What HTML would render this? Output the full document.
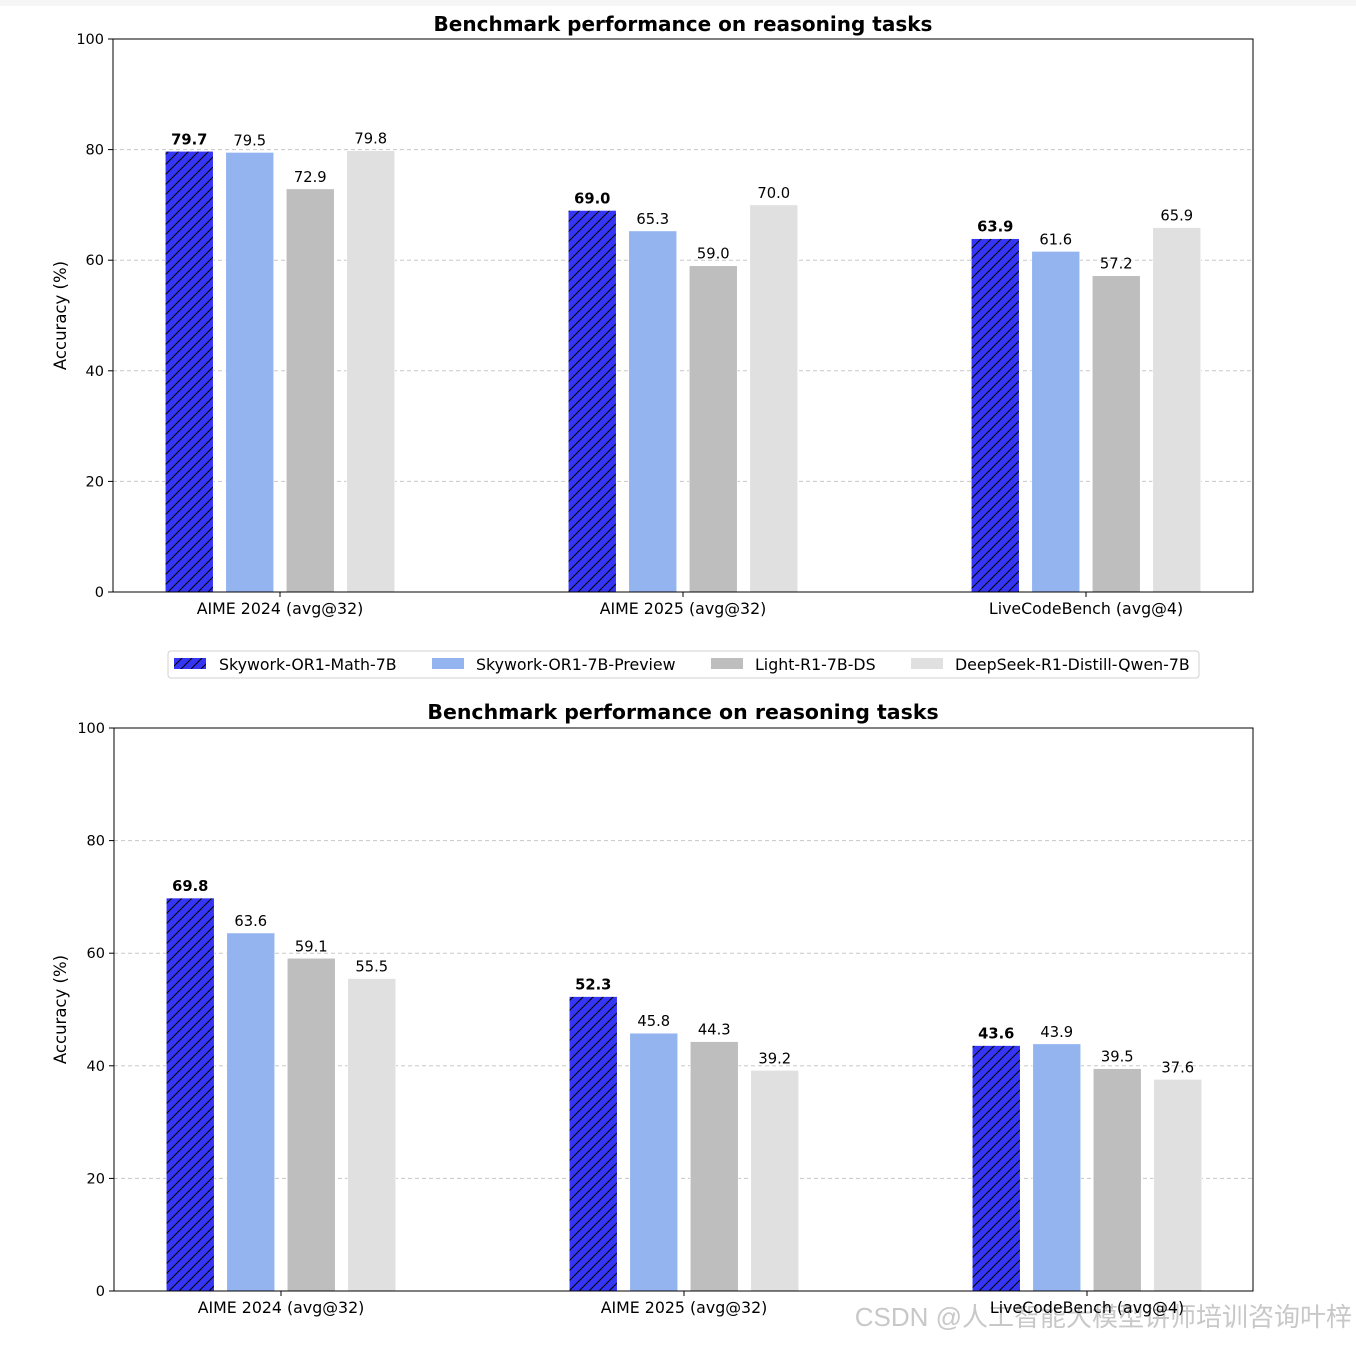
<!DOCTYPE html>
<html><head><meta charset="utf-8"><style>
body{margin:0;background:#fff;width:1356px;height:1340px;overflow:hidden;font-family:"Liberation Sans","DejaVu Sans",sans-serif}
svg text{font-family:"DejaVu Sans","Liberation Sans",sans-serif}
</style></head><body>
<svg id="s" width="1356" height="1340" xmlns="http://www.w3.org/2000/svg">
<defs><pattern id="hatch" patternUnits="userSpaceOnUse" width="10" height="10"><rect width="10" height="10" fill="#3535f5"/><path d="M-1,11 L11,-1 M-5,5 L5,-5 M5,15 L15,5" stroke="#000" stroke-width="1"/></pattern></defs>
<rect x="0" y="0" width="1356" height="6" fill="#f6f6f6"/>
<g id="legend">
<rect x="168" y="651" width="1031" height="27" rx="3" fill="#fff" stroke="#d0d0d0"/>
<rect x="174" y="658" width="32" height="11" fill="url(#hatch)"/>
<text x="219" y="670" font-size="15.8">Skywork-OR1-Math-7B</text>
<rect x="432" y="658" width="32" height="11" fill="#94b4f0"/>
<text x="476" y="670" font-size="15.8">Skywork-OR1-7B-Preview</text>
<rect x="711" y="658" width="32" height="11" fill="#bebebe"/>
<text x="755" y="670" font-size="15.8">Light-R1-7B-DS</text>
<rect x="911" y="658" width="32" height="11" fill="#e0e0e0"/>
<text x="955" y="670" font-size="15.8">DeepSeek-R1-Distill-Qwen-7B</text>
</g>
<text x="1352" y="1326" font-size="26" fill="#c8c8c8" text-anchor="end" style="font-family:'Liberation Sans','Noto Sans CJK SC',sans-serif">CSDN @人工智能大模型讲师培训咨询叶梓</text>
</svg>
<script>
const categories = ["AIME 2024 (avg@32)", "AIME 2025 (avg@32)", "LiveCodeBench (avg@4)"];
const seriesNames = ["Skywork-OR1-Math-7B", "Skywork-OR1-7B-Preview", "Light-R1-7B-DS", "DeepSeek-R1-Distill-Qwen-7B"];
const topValues = [[79.7, 69.0, 63.9], [79.5, 65.3, 61.6], [72.9, 59.0, 57.2], [79.8, 70.0, 65.9]];
const bottomValues = [[69.8, 52.3, 43.6], [63.6, 45.8, 43.9], [59.1, 44.3, 39.5], [55.5, 39.2, 37.6]];
const yTicks = [0, 20, 40, 60, 80, 100];
const colors = ["url(#hatch)", "#94b4f0", "#bebebe", "#e0e0e0"];
const NS = "http://www.w3.org/2000/svg";
const svg = document.getElementById('s');
function mk(tag, attrs, parent, txt){const e=document.createElementNS(NS,tag);for(const k in attrs)e.setAttribute(k,attrs[k]);if(txt!==undefined)e.textContent=txt;(parent||svg).appendChild(e);return e;}
function drawChart(prefix, L, R, T, B, titleY, titleSize, values){
  const g = mk('g',{});
  
  
  const y = v => B - (v/100)*(B-T);
  const xc = i => L + 167 + i*403;
  const t = mk('text',{x:683,y:titleY,'font-size':titleSize,'font-weight':'bold','text-anchor':'middle'},g,'Benchmark performance on reasoning tasks');
  
  
  yTicks.forEach(v=>{
    if(v>0&&v<100){const gl=mk('line',{x1:L,x2:R,y1:y(v),y2:y(v),stroke:'#c8c8c8','stroke-dasharray':'4,3','stroke-width':1},g);
      
      }
    mk('line',{x1:L-5,x2:L,y1:y(v),y2:y(v),stroke:'#000'},g);
    const tl=mk('text',{x:L-9,y:y(v)+5,'font-size':14.5,'text-anchor':'end'},g,String(v));
    
    
  });
  const yt=mk('text',{x:0,y:0,'font-size':16.5,'text-anchor':'middle',transform:`translate(66,${(T+B)/2}) rotate(-90)`},g,'Accuracy (%)');
  
  
  categories.forEach((c,i)=>{
    mk('line',{x1:xc(i),x2:xc(i),y1:B,y2:B+5,stroke:'#000'},g);
    const xl=mk('text',{x:xc(i),y:B+22,'font-size':15.8,'text-anchor':'middle'},g,c);
    
    
    values.forEach((ser,s)=>{
      const v=ser[i], cx=xc(i)+(s-1.5)*60.5;
      const r=mk('rect',{x:cx-24,y:y(v),width:48,height:B-y(v),fill:colors[s],stroke:'#fff','stroke-width':0.6},g);
      
      
      const lb=mk('text',{x:cx,y:y(v)-7,'font-size':14.7,'text-anchor':'middle','font-weight':s===0?'bold':'normal'},g,v.toFixed(1));
      
      
    });
  });
  const fr=mk('rect',{x:L,y:T,width:R-L,height:B-T,fill:'none',stroke:'#000','stroke-width':1},g);
  
  
}
drawChart('top', 113, 1253, 39, 592, 31, 20, topValues);
drawChart('bottom', 114, 1253, 728, 1291, 719, 20.5, bottomValues);
svg.appendChild(document.getElementById('legend'));
</script>
</body></html>
